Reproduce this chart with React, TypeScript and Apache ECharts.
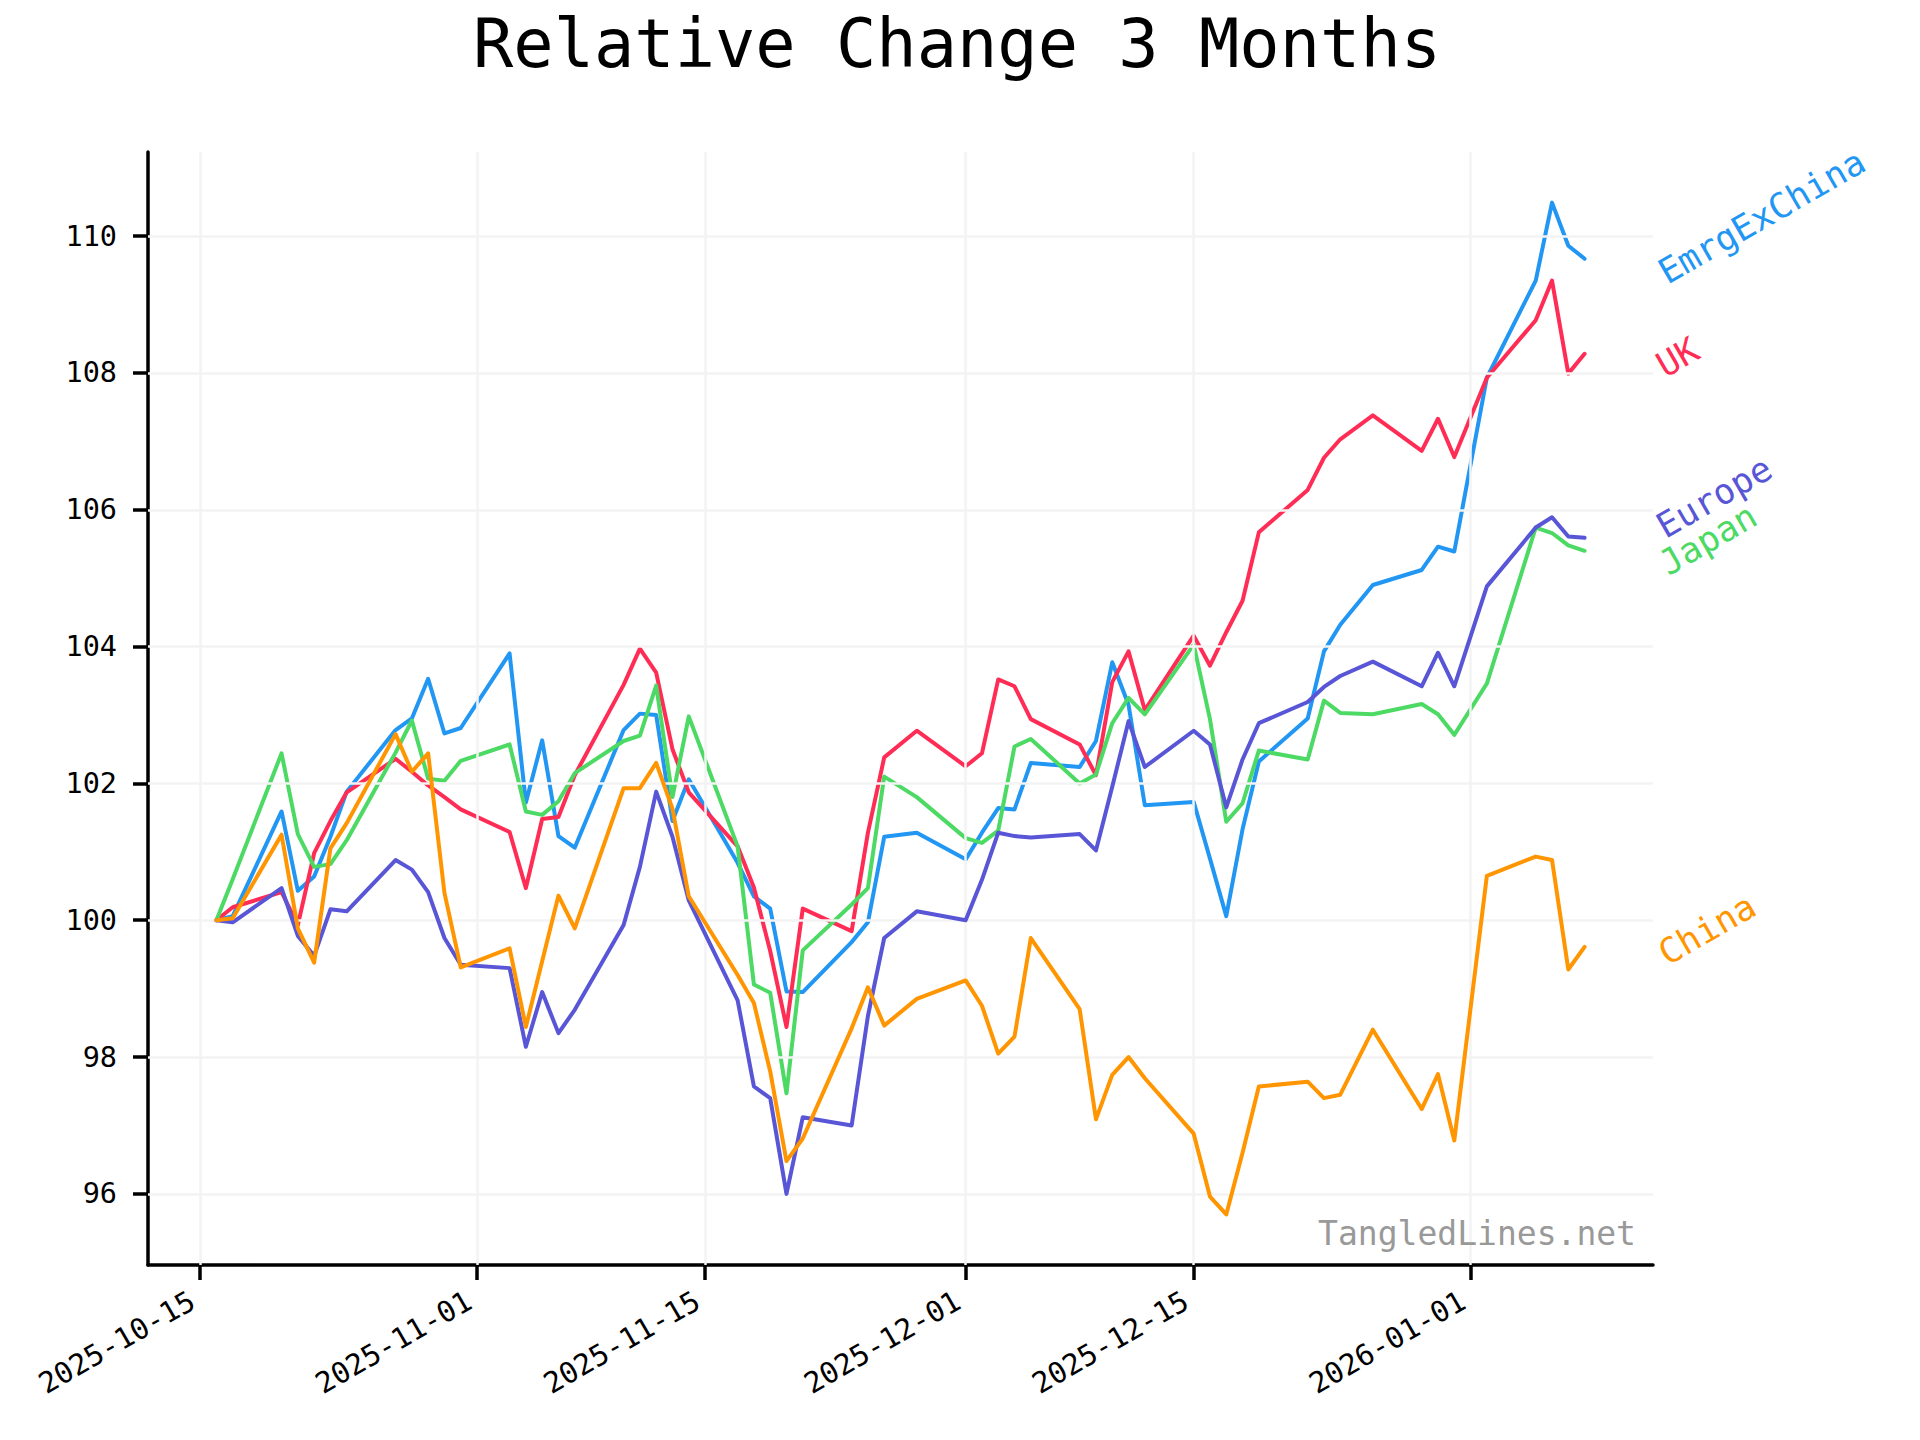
import React, { useEffect, useRef } from "react";
import * as echarts from "echarts";

const dates = [
  "2025-10-16", "2025-10-17", "2025-10-20", "2025-10-21", "2025-10-22", "2025-10-23", "2025-10-24",
  "2025-10-27", "2025-10-28", "2025-10-29", "2025-10-30", "2025-10-31",
  "2025-11-03", "2025-11-04", "2025-11-05", "2025-11-06", "2025-11-07",
  "2025-11-10", "2025-11-11", "2025-11-12", "2025-11-13", "2025-11-14",
  "2025-11-17", "2025-11-18", "2025-11-19", "2025-11-20", "2025-11-21",
  "2025-11-24", "2025-11-25", "2025-11-26", "2025-11-28",
  "2025-12-01", "2025-12-02", "2025-12-03", "2025-12-04", "2025-12-05",
  "2025-12-08", "2025-12-09", "2025-12-10", "2025-12-11", "2025-12-12",
  "2025-12-15", "2025-12-16", "2025-12-17", "2025-12-18", "2025-12-19",
  "2025-12-22", "2025-12-23", "2025-12-24", "2025-12-26",
  "2025-12-29", "2025-12-30", "2025-12-31",
  "2026-01-02", "2026-01-05", "2026-01-06", "2026-01-07", "2026-01-08",
];

const emrgExChina = [
  100.0, 100.06, 101.59, 100.43, 100.64, 101.22, 101.88, 102.78, 102.95, 103.53, 102.73, 102.81,
  103.9, 101.72, 102.63, 101.23, 101.06, 102.78, 103.02, 103.0, 101.45, 102.06, 100.84, 100.35, 100.17, 98.96, 98.95, 99.68, 99.97, 101.22, 101.28,
  100.89, 101.28, 101.64, 101.62, 102.3, 102.24, 102.62, 103.77, 103.15, 101.68, 101.73, 100.9, 100.06, 101.33, 102.32, 102.95, 103.93, 104.32, 104.9, 105.12, 105.46, 105.39,
  107.93, 109.35, 110.49, 109.86, 109.67,
];

const uk = [
  100.0, 100.19, 100.41, 99.93, 100.98, 101.45, 101.87, 102.36, 102.17, 101.97, 101.8, 101.62,
  101.29, 100.47, 101.48, 101.51, 102.12, 103.44, 103.97, 103.62, 102.5, 101.87, 101.08, 100.48, 99.55, 98.44, 100.17, 99.84, 101.28, 102.38, 102.77,
  102.25, 102.44, 103.52, 103.42, 102.94, 102.57, 102.12, 103.48, 103.93, 103.07, 104.16, 103.72, 104.21, 104.67, 105.67, 106.29, 106.76, 107.03, 107.38, 106.86, 107.33, 106.77,
  107.93, 108.77, 109.35, 107.99, 108.28,
];

const europe = [
  100.0, 99.97, 100.47, 99.77, 99.48, 100.16, 100.13, 100.88, 100.74, 100.41, 99.74, 99.35,
  99.3, 98.15, 98.95, 98.35, 98.69, 99.93, 100.78, 101.88, 101.22, 100.29, 98.83, 97.57, 97.4, 96.0, 97.12, 97.0, 98.6, 99.74, 100.13,
  100.0, 100.59, 101.28, 101.23, 101.21, 101.26, 101.02, 101.95, 102.91, 102.24, 102.77, 102.57, 101.65, 102.35, 102.88, 103.19, 103.41, 103.57, 103.78, 103.42, 103.91, 103.42,
  104.88, 105.74, 105.89, 105.61, 105.59,
];

const japan = [
  100.0, 100.6, 102.44, 101.26, 100.78, 100.82, 101.17, 102.45, 102.92, 102.07, 102.04, 102.33,
  102.57, 101.59, 101.54, 101.74, 102.15, 102.62, 102.7, 103.43, 101.8, 102.98, 101.08, 99.06, 98.94, 97.47, 99.56, 100.23, 100.47, 102.1, 101.8,
  101.2, 101.13, 101.31, 102.54, 102.65, 102.0, 102.13, 102.88, 103.25, 103.01, 104.03, 102.94, 101.44, 101.71, 102.48, 102.35, 103.21, 103.03, 103.01, 103.16, 103.01, 102.71,
  103.46, 105.74, 105.66, 105.48, 105.4,
];

const china = [
  100.0, 100.03, 101.25, 99.88, 99.38, 101.05, 101.42, 102.72, 102.17, 102.44, 100.4, 99.31,
  99.59, 98.44, 99.4, 100.36, 99.88, 101.93, 101.93, 102.3, 101.63, 100.35, 99.2, 98.79, 97.79, 96.48, 96.81, 98.42, 99.02, 98.46, 98.85,
  99.12, 98.75, 98.05, 98.3, 99.74, 98.7, 97.09, 97.74, 98.0, 97.69, 96.88, 95.96, 95.7, 96.6, 97.57, 97.64, 97.4, 97.45, 98.4, 97.24, 97.75, 96.78,
  100.65, 100.93, 100.88, 99.28, 99.61,
];

const xTickLabels = ["2025-10-15", "2025-11-01", "2025-11-15", "2025-12-01", "2025-12-15", "2026-01-01"];
const yTickValues = [96, 98, 100, 102, 104, 106, 108, 110];
const titleText = "Relative Change 3 Months";
const watermarkText = "TangledLines.net";

const FONT = '"DejaVu Sans Mono", monospace';

const toTs = (s: string) => {
  const [y, m, d] = s.split("-").map(Number);
  return Date.UTC(y, m - 1, d);
};
const fmtDate = (v: number) => {
  const d = new Date(v);
  return `${d.getUTCFullYear()}-${String(d.getUTCMonth() + 1).padStart(2, "0")}-${String(d.getUTCDate()).padStart(2, "0")}`;
};

const seriesDefs = [
  { name: "EmrgExChina", values: emrgExChina, color: "#2196F3", labelDx: 77, labelDy: 16 },
  { name: "UK", values: uk, color: "#FF2D55", labelDx: 75, labelDy: 14 },
  { name: "Japan", values: japan, color: "#4CD964", labelDx: 78, labelDy: 15 },
  { name: "Europe", values: europe, color: "#5856D6", labelDx: 75, labelDy: -9 },
  { name: "China", values: china, color: "#FF9500", labelDx: 77, labelDy: 9 },
];

export default function App() {
  const ref = useRef<HTMLDivElement>(null);

  useEffect(() => {
    document.body.style.margin = "0";
    if (!ref.current) return;
    const chart = echarts.init(ref.current, null, { renderer: "svg" });

    const ts = dates.map(toTs);
    const xTicks = xTickLabels.map(toTs);
    const first = ts[0];
    const last = ts[ts.length - 1];
    const xSpan = last - first;
    const allVals = seriesDefs.flatMap((s) => s.values);
    const vMin = Math.min(...allVals);
    const vMax = Math.max(...allVals);
    const vSpan = vMax - vMin;

    const baseGraphic: any[] = [
      {
        type: "text",
        x: 957,
        y: 44,
        style: {
          text: titleText,
          fill: "#000",
          fontSize: 67,
          fontFamily: FONT,
          align: "center",
          verticalAlign: "middle",
          textAlign: "center",
          textVerticalAlign: "middle",
        },
      },
      {
        type: "text",
        x: 1636,
        y: 1233,
        z: 10,
        style: {
          text: watermarkText,
          fill: "#999999",
          fontSize: 33,
          fontFamily: FONT,
          align: "right",
          verticalAlign: "middle",
          textAlign: "right",
          textVerticalAlign: "middle",
        },
      },
    ];

    const axisCommon = {
      axisLine: { show: true, onZero: false, lineStyle: { color: "#000", width: 3.5 } },
      axisTick: { show: true, length: 15, lineStyle: { color: "#000", width: 3.5 } },
      splitLine: { show: false },
    };

    const option: any = {
      animation: false,
      backgroundColor: "#fff",
      grid: { left: 148, right: 267, top: 152, bottom: 175, containLabel: false, outerBoundsMode: "none" },
      xAxis: {
        type: "value",
        min: first - 0.05 * xSpan,
        max: last + 0.05 * xSpan,
        ...axisCommon,
        axisTick: { ...axisCommon.axisTick, customValues: xTicks },
        axisLabel: {
          customValues: xTicks,
          formatter: (v: number) => fmtDate(v),
          rotate: 30,
          margin: 29,
          padding: [0, 9, 0, 0],
          fontFamily: FONT,
          fontSize: 29,
          color: "#000",
          hideOverlap: false,
        },
      },
      yAxis: {
        type: "value",
        min: vMin - 0.05 * vSpan,
        max: vMax + 0.05 * vSpan,
        ...axisCommon,
        axisTick: { ...axisCommon.axisTick, customValues: yTickValues },
        axisLabel: {
          customValues: yTickValues,
          formatter: (v: number) => String(v),
          margin: 31,
          fontFamily: FONT,
          fontSize: 28.5,
          color: "#000",
          hideOverlap: false,
        },
      },
      graphic: baseGraphic,
      series: [
        {
          type: "line",
          name: "grid",
          data: [[first, 100]],
          symbol: "none",
          lineStyle: { opacity: 0 },
          silent: true,
          z: 0,
          markLine: {
            silent: true,
            symbol: ["none", "none"],
            label: { show: false },
            lineStyle: { color: "#f3f3f3", width: 2.5, type: "solid" },
            emphasis: { disabled: true },
            data: [
              ...xTicks.map((t) => ({ xAxis: t })),
              ...yTickValues.map((v) => ({ yAxis: v })),
            ],
          },
        },
        ...seriesDefs.map((s, k) => ({
          type: "line",
          name: s.name,
          data: ts.map((t, i) => [t, s.values[i]]),
          symbol: "none",
          showSymbol: false,
          silent: true,
          z: 2 + k,
          lineStyle: { color: s.color, width: 4, cap: "round", join: "round" },
          itemStyle: { color: s.color },
          emphasis: { disabled: true },
        })),
      ],
    };

    chart.setOption(option);

    const labelEls = seriesDefs.map((s) => {
      const p = chart.convertToPixel({ gridIndex: 0 }, [last, s.values[s.values.length - 1]]) as number[];
      return {
        type: "text",
        x: p[0] + s.labelDx,
        y: p[1] + s.labelDy,
        rotation: Math.PI / 6,
        style: {
          text: s.name,
          fill: s.color,
          fontSize: 35,
          fontFamily: FONT,
          align: "left",
          verticalAlign: "middle",
          textAlign: "left",
          textVerticalAlign: "middle",
        },
      };
    });

    chart.setOption({ graphic: [...baseGraphic, ...labelEls] });

    return () => {
      chart.dispose();
    };
  }, []);

  return <div ref={ref} style={{ width: 1920, height: 1440 }} />;
}
